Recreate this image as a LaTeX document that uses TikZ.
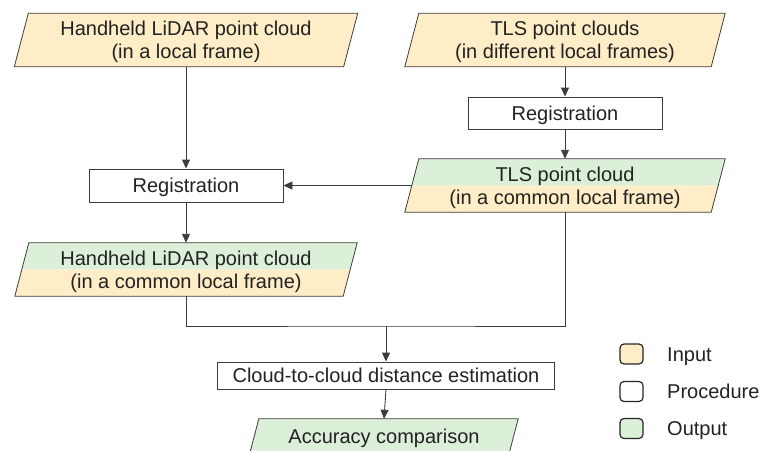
\documentclass[tikz,border=0pt]{standalone}
\usepackage{fontspec}
\setmainfont{Liberation Sans}
\usetikzlibrary{arrows.meta,backgrounds,calc}
\definecolor{inc}{HTML}{FEEDC6}
\definecolor{outc}{HTML}{DCEFD8}
\definecolor{ln}{HTML}{3C3C3C}
\definecolor{txt}{HTML}{222222}
\newcommand\paraone[3]{%
  \filldraw[draw=ln, line width=0.8pt, fill=#3] ($(#1.north west)+(#2,0)$) -- ($(#1.north east)+(#2,0)$) -- ($(#1.south east)-(#2,0)$) -- ($(#1.south west)-(#2,0)$) -- cycle;}
\newcommand\paratwo[2]{%
  \fill[outc] ($(#1.north west)+(#2,0)$) -- ($(#1.north east)+(#2,0)$) -- (#1.east) -- (#1.west) -- cycle;
  \fill[inc] (#1.west) -- (#1.east) -- ($(#1.south east)-(#2,0)$) -- ($(#1.south west)-(#2,0)$) -- cycle;
  \draw[ln, line width=0.8pt] ($(#1.north west)+(#2,0)$) -- ($(#1.north east)+(#2,0)$) -- ($(#1.south east)-(#2,0)$) -- ($(#1.south west)-(#2,0)$) -- cycle;}
\begin{document}
\begin{tikzpicture}[x=1pt,y=-1pt,
  every node/.style={font=\fontsize{20}{22.5}\selectfont, text=txt, align=center, inner sep=0pt},
  box/.style={draw=ln, line width=0.9pt, fill=white, minimum width=#1, minimum height=33pt, text depth=0pt},
  para/.style={minimum width=#1, minimum height=53pt, text depth=0pt},
  arr/.style={draw=ln, line width=0.9pt, -{Triangle[length=9pt,width=8pt]}},
  conn/.style={draw=ln, line width=0.9pt},
  leg/.style={draw=black!85, line width=1.2pt, rounded corners=4pt, minimum width=23pt, minimum height=20pt}
]
\useasboundingbox (0,0) rectangle (760,450);

\node[para=329pt] (hin) at (186,40) {Handheld LiDAR point cloud\\(in a local frame)};
\node[para=306pt] (tin) at (565,40) {TLS point clouds\\(in different local frames)};
\node[box=194pt, minimum height=32pt] (treg) at (565,113) {Registration};
\node[para=306pt] (tcom) at (565,185.5) {TLS point cloud\\(in a common local frame)};
\node[box=194pt] (hreg) at (186,185.5) {Registration};
\node[para=328pt] (hcom) at (186,269.5) {Handheld LiDAR point cloud\\(in a common local frame)};
\coordinate (j) at (386,326);
\node[box=337pt, minimum height=27pt] (c2c) at (386,375.5) {Cloud-to-cloud distance estimation};
\node[para=259pt, minimum height=34pt] (acc) at (384,436) {Accuracy comparison};

\node[leg, fill=inc] (lin) at (631.5,354) {};
\node[leg, fill=white] (lpr) at (631.5,391.5) {};
\node[leg, fill=outc] (lout) at (631.5,428.5) {};
\node[anchor=base west] (lint) at (667,361) {Input};
\node[anchor=base west] (lprt) at (667,398) {Procedure};
\node[anchor=base west] (loutt) at (667,435) {Output};

\begin{scope}[on background layer]
  \paraone{hin}{7}{inc}
  \paraone{tin}{7}{inc}
  \paratwo{tcom}{7}
  \paratwo{hcom}{7}
  \paraone{acc}{4.5}{outc}
\end{scope}

\draw[arr] (hin.south) -- (hreg.north);
\draw[arr] (tin.south) -- (treg.north);
\draw[arr] (treg.south) -- (tcom.north);
\draw[arr] (tcom.west) -- (hreg.east);
\draw[arr] (hreg.south) -- (hcom.north);
\draw[conn] (hcom.south) |- (j) -| (tcom.south);
\draw[arr] (j) -- (c2c.north);
\draw[arr] (c2c.south) -- (acc.north);
\end{tikzpicture}
\end{document}
